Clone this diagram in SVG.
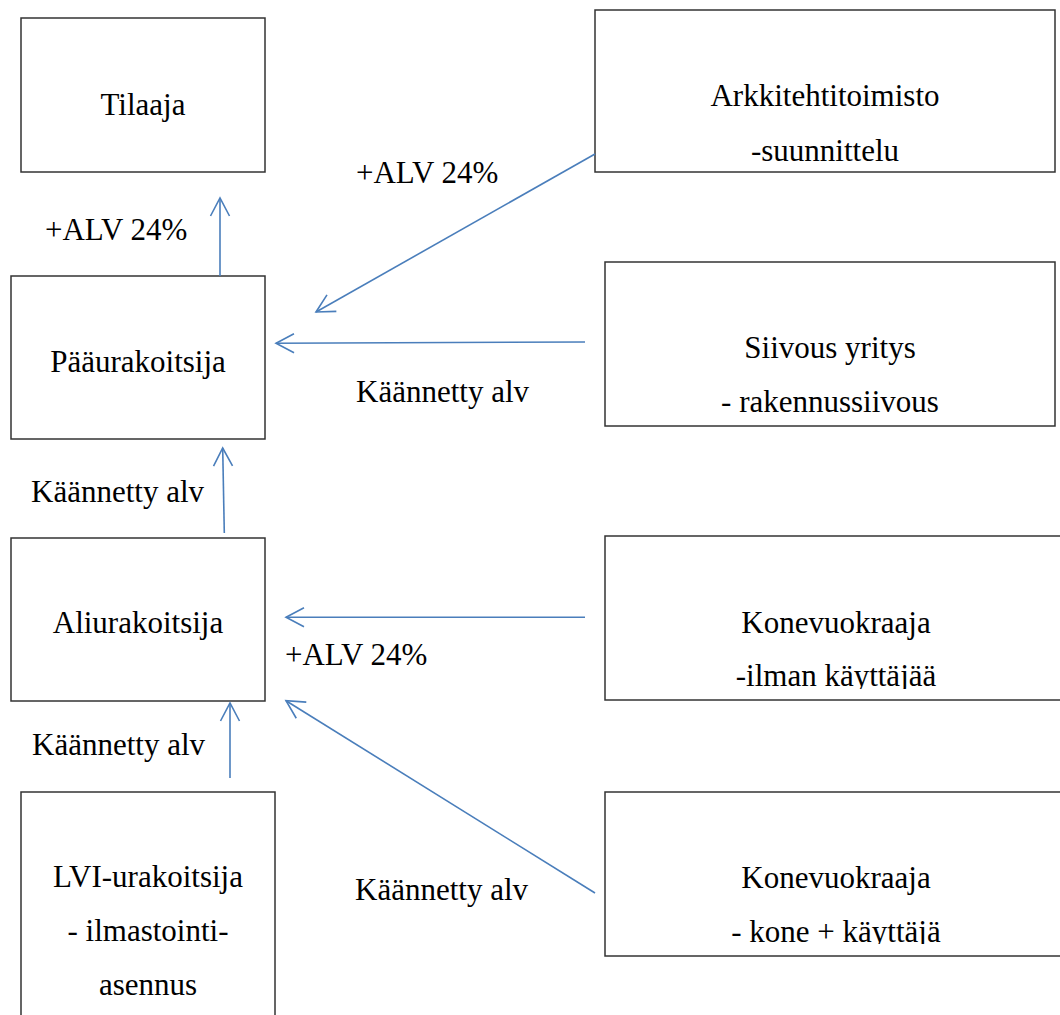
<svg xmlns="http://www.w3.org/2000/svg" width="1060" height="1015" viewBox="0 0 1060 1015">
<style>
.box{fill:#fff;stroke:#333;stroke-width:1.5}
text{font-family:'Liberation Serif','Times New Roman','DejaVu Serif',serif;font-size:31px;fill:#000}
.c{text-anchor:middle}
.con{stroke:#4A7EBB;stroke-width:1.6;fill:none;marker-end:url(#arr)}
</style>
<defs>
<marker id="arr" markerUnits="userSpaceOnUse" markerWidth="40" markerHeight="40" viewBox="-20 -20 40 40" refX="0" refY="0" orient="auto" overflow="visible">
<path d="M-18,-9.5 L0,0 L-18,9.5" fill="none" stroke="#4A7EBB" stroke-width="1.6"/>
</marker>
<clipPath id="clipK1"><rect x="600" y="530" width="470" height="159"/></clipPath>
<clipPath id="clipK2"><rect x="600" y="786" width="470" height="158"/></clipPath>
</defs>
<rect width="1060" height="1015" fill="#fff"/>
<g font-family="Liberation Serif, Times New Roman, serif" font-size="31">
<g id="tilaaja"><rect class="box" x="21" y="18" width="244" height="154"/><text class="c" x="143" y="115">Tilaaja</text></g>
<g id="paaurakoitsija"><rect class="box" x="11" y="276" width="254" height="163"/><text class="c" x="138" y="372">Pääurakoitsija</text></g>
<g id="aliurakoitsija"><rect class="box" x="11" y="538" width="254" height="163"/><text class="c" x="138" y="633">Aliurakoitsija</text></g>
<g id="lvi"><rect class="box" x="21" y="792" width="254" height="240"/><text class="c" x="148" y="887">LVI-urakoitsija</text><text class="c" x="148" y="941">- ilmastointi-</text><text class="c" x="148" y="995">asennus</text></g>
<g id="arkkitehti"><rect class="box" x="595" y="10" width="460" height="162"/><text class="c" x="825" y="106">Arkkitehtitoimisto</text><text class="c" x="825" y="161">-suunnittelu</text></g>
<g id="siivous"><rect class="box" x="605" y="262" width="450" height="164"/><text class="c" x="830" y="358">Siivous yritys</text><text class="c" x="830" y="412">- rakennussiivous</text></g>
<g id="konevuokraaja1"><rect class="box" x="605" y="536" width="463" height="164"/><g clip-path="url(#clipK1)"><text class="c" x="836" y="633">Konevuokraaja</text><text class="c" x="836" y="686">-ilman käyttäjää</text></g></g>
<g id="konevuokraaja2"><rect class="box" x="605" y="792" width="463" height="164"/><g clip-path="url(#clipK2)"><text class="c" x="836" y="888">Konevuokraaja</text><text class="c" x="836" y="942">- kone + käyttäjä</text></g></g>
<g id="connectors">
<line class="con" x1="220" y1="276" x2="220" y2="198"/>
<line class="con" x1="595" y1="154" x2="316" y2="312"/>
<line class="con" x1="585" y1="342" x2="276" y2="343.3"/>
<line class="con" x1="224.3" y1="533" x2="222.7" y2="448"/>
<line class="con" x1="585" y1="617.3" x2="286" y2="617.3"/>
<line class="con" x1="230" y1="778" x2="230" y2="703"/>
<line class="con" x1="595" y1="893" x2="286" y2="700.7"/>
</g>
<g id="labels">
<text x="45" y="240">+ALV 24%</text>
<text x="356" y="183">+ALV 24%</text>
<text x="356" y="402">Käännetty alv</text>
<text x="31" y="502">Käännetty alv</text>
<text x="285" y="665">+ALV 24%</text>
<text x="32" y="755">Käännetty alv</text>
<text x="355" y="900">Käännetty alv</text>
</g>
</g>
</svg>
